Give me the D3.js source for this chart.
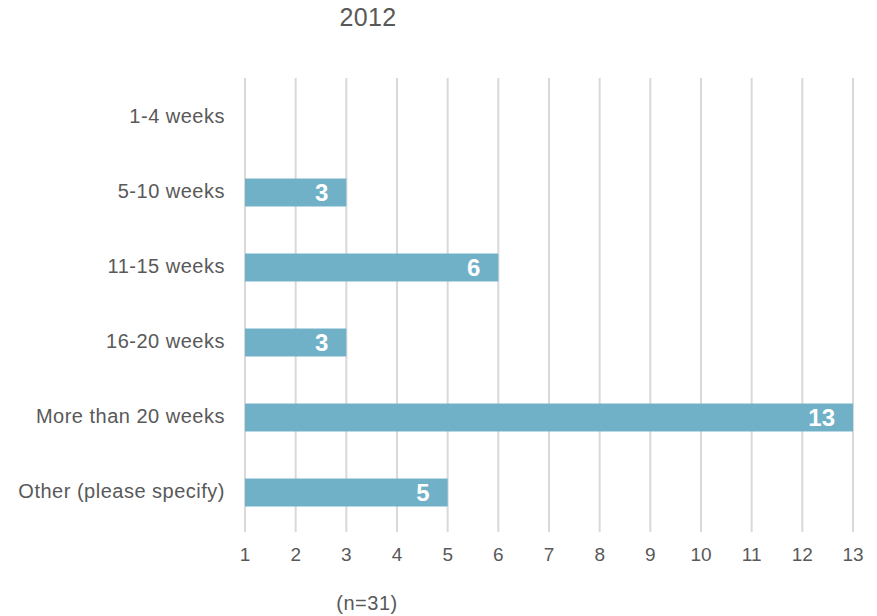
<!DOCTYPE html>
<html>
<head>
<meta charset="utf-8">
<script src="https://cdn.jsdelivr.net/npm/d3@7"></script>
<style>
  body { margin: 0; background: #fff; }
  text { font-family: "Liberation Sans", Arial, sans-serif; }
</style>
</head>
<body>
<svg id="chart" width="877" height="616"></svg>
<script>
const categories = ['1-4 weeks', '5-10 weeks', '11-15 weeks', '16-20 weeks', 'More than 20 weeks', 'Other (please specify)'];
const values = [1, 3, 6, 3, 13, 5];
const ticks = [1, 2, 3, 4, 5, 6, 7, 8, 9, 10, 11, 12, 13];
const title = '2012';
const note = '(n=31)';

const svg = d3.select('#chart');
const textColor = '#595959';

const x = d3.scaleLinear().domain([1, 13]).range([245, 853]);
const y = d3.scaleBand().domain(categories).range([80, 530])
    .paddingInner(0.627).paddingOuter(0.3135);

// gridlines
svg.append('g')
    .selectAll('line')
    .data(ticks)
    .enter().append('line')
    .attr('x1', (d) => x(d))
    .attr('x2', (d) => x(d))
    .attr('y1', 78)
    .attr('y2', 532)
    .attr('stroke', '#d9d9d9')
    .attr('stroke-width', 2);

// bars
let rows = svg.append('g')
    .selectAll('g')
    .data(categories.map((c, i) => ({ name: c, value: values[i] })))
    .enter().append('g');

rows.append('rect')
    .attr('x', x(1))
    .attr('y', (d) => y(d.name))
    .attr('width', (d) => x(d.value) - x(1))
    .attr('height', y.bandwidth())
    .attr('fill', '#70b1c8');

rows.filter((d) => x(d.value) - x(1) > 20)
    .append('text')
    .attr('x', (d) => x(d.value) - 18)
    .attr('y', (d) => y(d.name) + y.bandwidth() / 2)
    .attr('dy', '0.36em')
    .attr('text-anchor', 'end')
    .attr('fill', '#fff')
    .style('font-size', '24px')
    .style('font-weight', 'bold')
    .text((d) => d.value);

// category labels
svg.append('g')
    .selectAll('text')
    .data(categories)
    .enter().append('text')
    .attr('x', 225)
    .attr('y', (d) => y(d) + y.bandwidth() / 2 - 2)
    .attr('dy', '0.36em')
    .attr('text-anchor', 'end')
    .attr('fill', textColor)
    .style('font-size', '20px')
    .style('letter-spacing', '0.5px')
    .text((d) => d);

// x axis tick labels
svg.append('g')
    .selectAll('text')
    .data(ticks)
    .enter().append('text')
    .attr('x', (d) => x(d))
    .attr('y', 554)
    .attr('dy', '0.36em')
    .attr('text-anchor', 'middle')
    .attr('fill', textColor)
    .style('font-size', '19px')
    .text((d) => d);

svg.append('text')
    .attr('x', 368)
    .attr('y', 17)
    .attr('dy', '0.36em')
    .attr('text-anchor', 'middle')
    .attr('fill', textColor)
    .style('font-size', '25px')
    .style('letter-spacing', '0.3px')
    .text(title);

svg.append('text')
    .attr('x', 367)
    .attr('y', 603)
    .attr('dy', '0.36em')
    .attr('text-anchor', 'middle')
    .attr('fill', textColor)
    .style('font-size', '20px')
    .style('letter-spacing', '0.5px')
    .text(note);
</script>
</body>
</html>
